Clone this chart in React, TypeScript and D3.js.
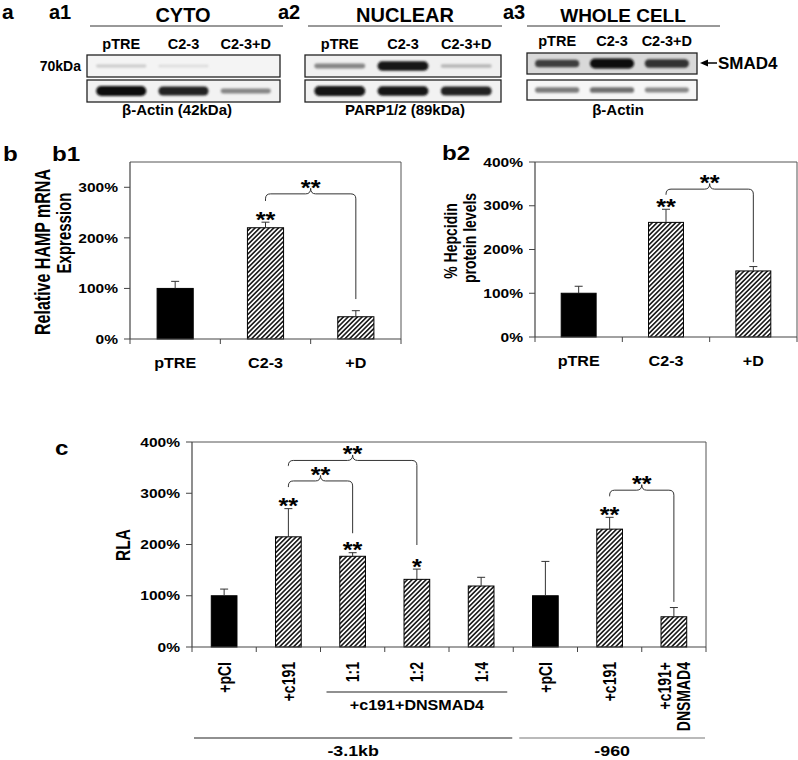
import React from "react";
import * as d3 from "d3";

const FONT = "'Liberation Sans', Arial, Helvetica, sans-serif";
const SX = 1.15;
const SXR = 1.35;

// ---------- Panel a: western blots (band intensities 0..1) ----------
const blotLanes = ["pTRE", "C2-3", "C2-3+D"];
const cytoTarget = [0.22, 0.15, 0.0];
const cytoActin = [1.0, 0.92, 0.5];
const nuclearTarget = [0.5, 0.95, 0.3];
const nuclearParp = [0.98, 0.95, 0.92];
const wholeSmad = [0.8, 1.0, 0.85];
const wholeActin = [0.55, 0.6, 0.5];

// ---------- Panel b1 ----------
const b1Categories = ["pTRE", "C2-3", "+D"];
const b1Values = [100, 220, 44];
const b1Errors = [14, 11, 12];
const b1Ticks = [0, 100, 200, 300];
const b1Stars = ["", "**", ""];
const b1Brackets = [{ from: 1, to: 2, level: 287, leftEnd: 273, rightEnd: 79 }];

// ---------- Panel b2 ----------
const b2Categories = ["pTRE", "C2-3", "+D"];
const b2Values = [100, 262, 151];
const b2Errors = [16, 30, 10];
const b2Ticks = [0, 100, 200, 300, 400];
const b2Stars = ["", "**", ""];
const b2Brackets = [{ from: 1, to: 2, level: 338, leftEnd: 325, rightEnd: 171 }];

// ---------- Panel c ----------
const cCategories = ["+pCI", "+c191", "1:1", "1:2", "1:4", "+pCI", "+c191", "+c191+\nDNSMAD4"];
const cValues = [100, 215, 177, 132, 119, 100, 230, 59];
const cErrors = [13, 55, 7, 20, 17, 67, 23, 18];
const cTicks = [0, 100, 200, 300, 400];
const cStars = ["", "**", "**", "*", "", "", "**", ""];
const cBrackets = [
  { from: 1, to: 2, level: 324, leftEnd: 312, rightEnd: 222 },
  { from: 1, to: 3, level: 364, leftEnd: 353, rightEnd: 199 },
  { from: 6, to: 7, level: 306, leftEnd: 294, rightEnd: 88 },
];
const controlsB = [0];
const controlsC = [0, 5];
const cGroups = [
  { label: "+c191+DNSMAD4", from: 2, to: 4, level: 1 },
  { label: "-3.1kb", from: 0, to: 4, level: 2 },
  { label: "-960", from: 5, to: 7, level: 2 },
];

function Txt({ x, y, s = 14, anchor = "start", rot = false, dy, sx, children, fill = "#000" }: any) {
  const k = sx !== undefined ? sx : rot ? SXR : SX;
  return (
    <text
      transform={`translate(${x},${y}) scale(${k},1)${rot ? " rotate(-90)" : ""}`}
      fontSize={s}
      textAnchor={anchor}
      dy={dy}
      fontFamily={FONT}
      fontWeight="bold"
      fill={fill}
    >
      {children}
    </text>
  );
}

function Blot({ x, w, y, h, intens, bg }: any) {
  const xs = d3.scalePoint<string>().domain(blotLanes).range([x, x + w]).padding(0.55);
  const bw = w * 0.26;
  return (
    <g>
      <rect x={x} y={y} width={w} height={h} fill={bg} stroke="#222" strokeWidth={1.3} />
      {blotLanes.map((l, i) => {
        const v = intens[i];
        if (v <= 0) return null;
        const t = 2 + 8 * Math.pow(v, 1.5);
        const g = Math.round(255 * (1 - 0.95 * v));
        return (
          <rect
            key={l}
            x={(xs(l) as number) - bw / 2}
            y={y + h / 2 - t / 2}
            width={bw}
            height={t}
            rx={t / 2}
            fill={`rgb(${g},${g},${g})`}
            filter="url(#blur)"
          />
        );
      })}
    </g>
  );
}

function LaneLabels({ x, w, y }: any) {
  const xs = d3.scalePoint<string>().domain(blotLanes).range([x, x + w]).padding(0.55);
  return (
    <g>
      {blotLanes.map((l) => (
        <Txt key={l} x={xs(l)} y={y} s={14.5} anchor="middle" sx={1}>
          {l}
        </Txt>
      ))}
    </g>
  );
}

function PanelA() {
  return (
    <g>
      <Txt x={2} y={19} s={21} sx={1}>a</Txt>
      <Txt x={49} y={19} s={20} sx={1}>a1</Txt>
      <Txt x={278} y={19} s={20} sx={1}>a2</Txt>
      <Txt x={503} y={19} s={20} sx={1}>a3</Txt>

      <Txt x={183} y={22} s={20} anchor="middle" sx={1}>CYTO</Txt>
      <line x1={90} x2={283} y1={26} y2={26} stroke="#333" strokeWidth={1} />
      <Txt x={405} y={22} s={20} anchor="middle" sx={1}>NUCLEAR</Txt>
      <line x1={308} x2={502} y1={26} y2={26} stroke="#333" strokeWidth={1} />
      <Txt x={623} y={22} s={19} anchor="middle" sx={1}>WHOLE CELL</Txt>
      <line x1={527} x2={720} y1={26} y2={26} stroke="#333" strokeWidth={1} />

      <LaneLabels x={87} w={193} y={49} />
      <LaneLabels x={305} w={196} y={49} />
      <LaneLabels x={527} w={170} y={46} />

      <Txt x={81} y={71} s={14} anchor="end" sx={1}>70kDa</Txt>

      <Blot x={87} w={193} y={55} h={22} intens={cytoTarget} bg="#f4f4f4" />
      <Blot x={87} w={193} y={80} h={22} intens={cytoActin} bg="#f2f2f2" />
      <Blot x={305} w={196} y={55} h={22} intens={nuclearTarget} bg="#f0f0f0" />
      <Blot x={305} w={196} y={80} h={22} intens={nuclearParp} bg="#f2f2f2" />
      <Blot x={527} w={170} y={53} h={21} intens={wholeSmad} bg="#d9d9d9" />
      <Blot x={527} w={170} y={80} h={20} intens={wholeActin} bg="#f6f6f6" />

      <path d="M700,63 L708,59.5 L708,66.5 Z" fill="#000" />
      <line x1={706} x2={717} y1={63} y2={63} stroke="#000" strokeWidth={1.5} />
      <Txt x={718} y={69} s={17} sx={1}>SMAD4</Txt>

      <Txt x={177} y={115} s={15} anchor="middle" sx={1}>β-Actin (42kDa)</Txt>
      <Txt x={405} y={115} s={15} anchor="middle" sx={1}>PARP1/2 (89kDa)</Txt>
      <Txt x={618} y={115} s={15} anchor="middle" sx={1}>β-Actin</Txt>
    </g>
  );
}

function BarChart(p: any) {
  const { left, right, top, bottom, max, ticks, cats, values, errors, controls, stars, brackets, labelMode, labelY } = p;
  const n = cats.length;
  const x = d3.scaleBand<number>().domain(d3.range(n)).range([left, right]).paddingInner(0.6).paddingOuter(0.3);
  const y = d3.scaleLinear().domain([0, max]).range([bottom, top]);
  const step = x.step();
  const bw = x.bandwidth();
  const cx = (i: number) => (x(i) as number) + bw / 2;
  const axisColor = "#444";
  const r = 5;
  const starS = 22;
  const starOff = 0.58 * starS;
  return (
    <g>
      <line x1={left} x2={right} y1={top} y2={top} stroke="#555" />
      <line x1={right} x2={right} y1={top} y2={bottom} stroke="#555" />
      {values.map((v: number, i: number) => (
        <rect
          key={"b" + i}
          x={x(i)}
          y={y(v)}
          width={bw}
          height={bottom - y(v)}
          fill={controls.includes(i) ? "#000" : "url(#hatch)"}
          stroke="#000"
          strokeWidth={1}
        />
      ))}
      {values.map((v: number, i: number) => (
        <g key={"e" + i} stroke="#333" strokeWidth={1}>
          <line x1={cx(i)} x2={cx(i)} y1={y(v)} y2={y(v + errors[i])} />
          <line x1={cx(i) - 4} x2={cx(i) + 4} y1={y(v + errors[i])} y2={y(v + errors[i])} />
        </g>
      ))}
      {stars.map((s: string, i: number) =>
        s ? (
          <Txt key={"s" + i} x={cx(i)} y={y(values[i] + errors[i]) - 8 + starOff} s={starS} anchor="middle">
            {s}
          </Txt>
        ) : null
      )}
      {brackets.map((b: any, k: number) => {
        const xL = cx(b.from), xR = cx(b.to), xM = (xL + xR) / 2;
        const yH = y(b.level), yL = y(b.leftEnd), yR = y(b.rightEnd);
        const d = `M${xL},${yL} L${xL},${yH + r} Q${xL},${yH} ${xL + r},${yH} L${xM - r},${yH} Q${xM},${yH} ${xM},${yH - r - 0.5} Q${xM},${yH} ${xM + r},${yH} L${xR - r},${yH} Q${xR},${yH} ${xR},${yH + r} L${xR},${yR}`;
        return (
          <g key={"k" + k}>
            <path d={d} fill="none" stroke="#333" strokeWidth={1} />
            <Txt x={xM} y={yH - 12 + starOff} s={starS} anchor="middle">**</Txt>
          </g>
        );
      })}
      <line x1={left} x2={left} y1={top} y2={bottom} stroke={axisColor} strokeWidth={1.2} />
      {ticks.map((t: number) => (
        <g key={"t" + t}>
          <line x1={left - 6} x2={left} y1={y(t)} y2={y(t)} stroke={axisColor} />
          <Txt x={left - 12} y={y(t)} s={13.5} anchor="end" dy="0.35em">
            {t + "%"}
          </Txt>
        </g>
      ))}
      <line x1={left} x2={right} y1={bottom} y2={bottom} stroke={axisColor} strokeWidth={1.2} />
      {d3.range(n + 1).map((i) => (
        <line key={"x" + i} x1={left + i * step} x2={left + i * step} y1={bottom} y2={bottom + 5} stroke={axisColor} />
      ))}
      {cats.map((c: string, i: number) => {
        if (labelMode === "h") {
          return (
            <Txt key={"l" + i} x={cx(i)} y={labelY} s={14} anchor="middle">
              {c}
            </Txt>
          );
        }
        const lines = c.split("\n");
        return (
          <g key={"l" + i}>
            {lines.map((ln, k) => (
              <Txt key={k} x={cx(i) + (k - (lines.length - 1) / 2) * 19} y={labelY} s={14} anchor="end" rot dy="0.35em">
                {ln}
              </Txt>
            ))}
          </g>
        );
      })}
      {p.groups &&
        p.groups.map((g: any, k: number) => {
          const x1 = left + g.from * step + (g.level === 1 ? 6 : g.from === 0 ? 2 : 6);
          const x2 = left + (g.to + 1) * step - (g.level === 1 ? 6 : 1);
          const ly = g.level === 1 ? 692 : 738;
          const ty = g.level === 1 ? 710 : 756;
          return (
            <g key={"g" + k}>
              <line x1={x1} x2={x2} y1={ly} y2={ly} stroke={g.from === 5 ? "#777" : "#222"} strokeWidth={1.2} />
              <Txt x={(x1 + x2) / 2} y={ty} s={g.level === 1 ? 14 : 15.5} anchor="middle">
                {g.label}
              </Txt>
            </g>
          );
        })}
    </g>
  );
}

export default function App() {
  return (
    <svg
      width={798}
      height={760}
      viewBox="0 0 798 760"
      style={{ position: "absolute", left: 0, top: 0, background: "#fff" }}
    >
      <defs>
        <pattern id="hatch" patternUnits="userSpaceOnUse" width={3.3} height={3.3} patternTransform="rotate(45)">
          <rect width={3.3} height={3.3} fill="#fff" />
          <line x1={1.65} x2={1.65} y1={-1} y2={4.3} stroke="#000" strokeWidth={1.45} />
        </pattern>
        <filter id="blur" x="-20%" y="-100%" width="140%" height="300%">
          <feGaussianBlur stdDeviation={1.3} />
        </filter>
      </defs>
      <rect width={798} height={760} fill="#fff" />
      <PanelA />

      <Txt x={3} y={161} s={21}>b</Txt>
      <Txt x={52} y={161} s={21}>b1</Txt>
      <Txt x={442} y={160} s={21}>b2</Txt>
      <Txt x={42} y={252} s={16} anchor="middle" rot dy="0.35em">Relative HAMP mRNA</Txt>
      <Txt x={64} y={233} s={15} anchor="middle" rot dy="0.35em">Expression</Txt>
      <BarChart
        left={130} right={401} top={162} bottom={339} max={350}
        ticks={b1Ticks} cats={b1Categories} values={b1Values} errors={b1Errors}
        controls={controlsB} stars={b1Stars} brackets={b1Brackets} labelMode="h" labelY={368}
      />
      <Txt x={450} y={241} s={14} anchor="middle" rot dy="0.35em">% Hepcidin</Txt>
      <Txt x={469} y={238} s={14} anchor="middle" rot dy="0.35em">protein levels</Txt>
      <BarChart
        left={535} right={797} top={162} bottom={337} max={400}
        ticks={b2Ticks} cats={b2Categories} values={b2Values} errors={b2Errors}
        controls={controlsB} stars={b2Stars} brackets={b2Brackets} labelMode="h" labelY={366}
      />

      <Txt x={55} y={455} s={21}>c</Txt>
      <Txt x={123} y={545} s={15.5} anchor="middle" rot dy="0.35em">RLA</Txt>
      <BarChart
        left={192} right={706} top={442} bottom={647} max={400}
        ticks={cTicks} cats={cCategories} values={cValues} errors={cErrors}
        controls={controlsC} stars={cStars} brackets={cBrackets} labelMode="v" labelY={662}
        groups={cGroups}
      />
    </svg>
  );
}
